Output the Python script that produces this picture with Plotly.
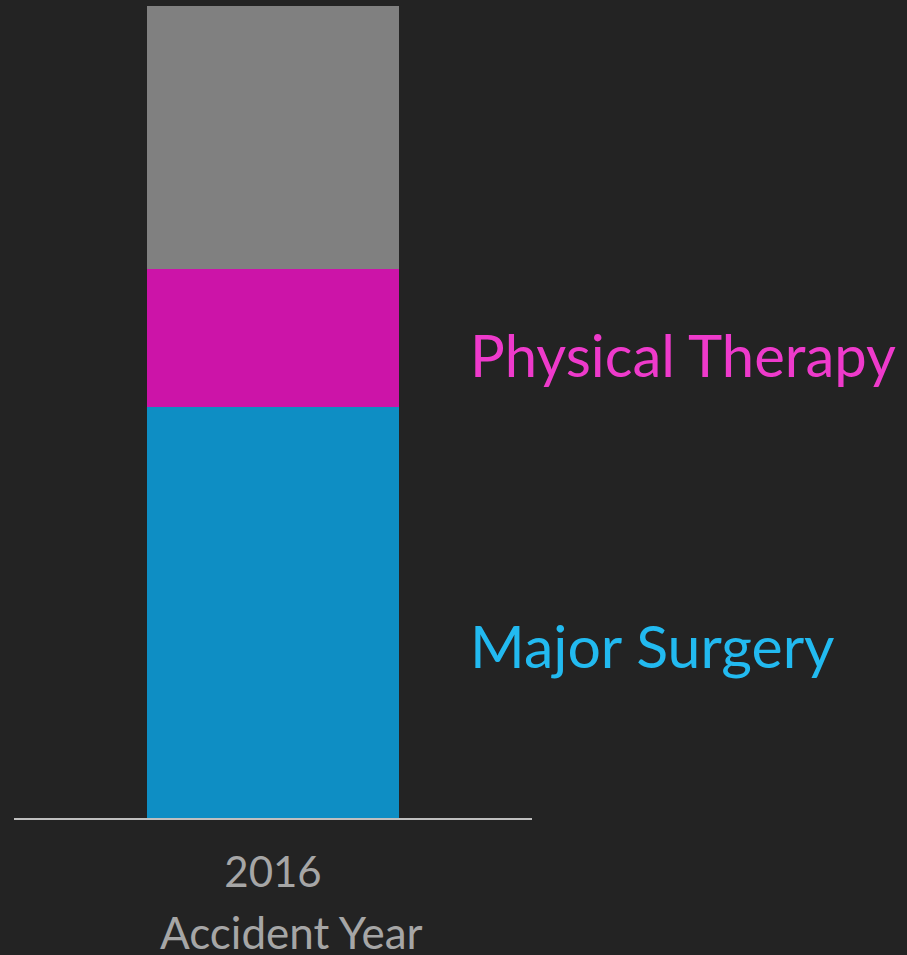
import plotly.graph_objects as go

categories = ["2016"]
major_surgery = [50.6]
physical_therapy = [17.0]
other = [32.4]
series_names = ["Major Surgery", "Physical Therapy", "Other"]
bar_colors = ["#0E8EC4", "#CC14A8", "#808080"]
label_colors = ["#22BAF0", "#EE3ACB"]
x_title = "Accident Year"

FONT = "Lato"

fig = go.Figure()
for name, vals, col in zip(series_names, [major_surgery, physical_therapy, other], bar_colors):
    fig.add_trace(go.Bar(x=categories, y=vals, name=name, marker_color=col,
                         marker_line_width=0, width=0.488, hoverinfo="skip"))

# series labels on the right
cum = 0
label_y = []
for vals in [major_surgery, physical_therapy]:
    label_y.append(cum + vals[0] / 2)
    cum += vals[0]

fig.add_annotation(x=0.8764, xref="paper", y=label_y[0] - 4.0, yref="y",
                   text=series_names[0], showarrow=False, xanchor="left", yanchor="middle",
                   font=dict(family=FONT, size=59, color=label_colors[0]))
fig.add_annotation(x=0.8764, xref="paper", y=label_y[1] - 2.0, yref="y",
                   text=series_names[1], showarrow=False, xanchor="left", yanchor="middle",
                   font=dict(family=FONT, size=58, color=label_colors[1]))

# axis title
fig.add_annotation(x=0.535, xref="paper", y=-0.1405, yref="paper",
                   text=x_title, showarrow=False, xanchor="center", yanchor="middle",
                   font=dict(family=FONT, size=44, color="#A6A6A6"))

fig.update_layout(
    barmode="stack",
    width=907, height=955,
    paper_bgcolor="#232323", plot_bgcolor="#232323",
    margin=dict(l=14, r=375, t=6, b=137),
    showlegend=False,
    xaxis=dict(type="category", showline=True, linecolor="#BFBFBF", linewidth=2,
               showgrid=False, zeroline=False, ticks="", ticklen=0,
               ticklabelstandoff=17,
               tickfont=dict(family=FONT, size=42, color="#A6A6A6")),
    yaxis=dict(visible=False, range=[0, 100], showgrid=False, zeroline=False),
)

fig.write_html("out.html", config={"displayModeBar": False},
               post_script="document.body.style.margin='0';document.body.style.background='#232323';")
